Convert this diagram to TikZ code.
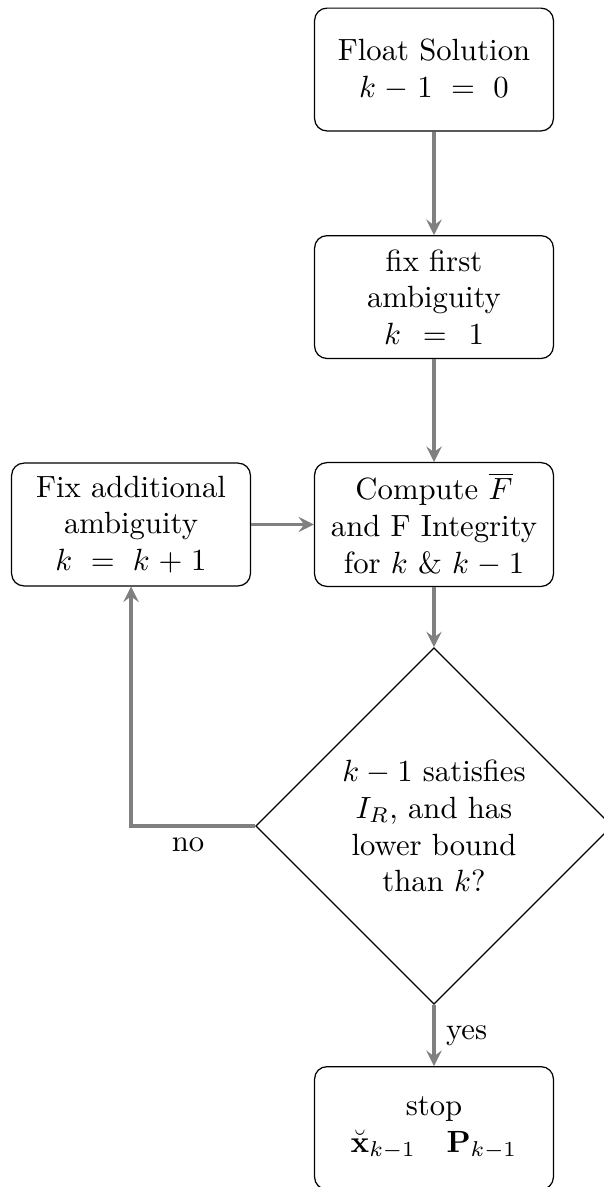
\documentclass[tikz,border=0pt]{standalone}
\usepackage{amsmath}
\usetikzlibrary{shapes.geometric}
\begin{document}
\begin{tikzpicture}[
    blocco/.style={rectangle,draw,rounded corners,text width=2.5cm,align=center,minimum height=4em},
    scelta/.style={diamond,draw,aspect=1,inner sep=0pt,text width=2.2cm,align=center,minimum width=4.08cm,minimum height=4.08cm},
    freccia/.style={draw=gray,line width=1.2pt,-stealth}]
        %fisso la cornice
        \useasboundingbox (-4.969,0.796) rectangle (1.935,-12.794);
        %disegno blocchi colonna centrale
        \node(float) at (0,0)[blocco]{Float Solution\\ $k-1\,=\,0$};
        \node(fix) at (0,-2.605)[blocco]{fix first ambiguity\\ $k\,=\,1$};
        \node(comp) at (0,-5.209)[blocco]{Compute $\overline{F}$\\ and F Integrity\\ for $k$ \& $k-1$};
        %blocco a sinistra
        \node(fixadd) at (-3.469,-5.209)[blocco]{Fix additional ambiguity\\ $k\,=\,k+1$};
        %disegno rombo
        \node(dec) at (0,-8.661)[scelta]{$k-1$ satisfies $I_R$, and has lower bound than $k$?};
        %blocco finale
        \node(stop) at (0,-11.409)[blocco,anchor=north]{stop\\ $\breve{\mathbf{x}}_{k-1}\quad\mathbf{P}_{k-1}$};
        
        %disegno frecce
        \draw[freccia](float)--(fix);
        \draw[freccia](fix)--(comp);
        \draw[freccia](fixadd)--(comp);
        \draw[freccia](comp)--(dec);
        \draw[freccia](dec)--node[right,black]{yes}(stop);
        \draw[freccia](dec.west)-|node[pos=.27,below,black]{no}(fixadd.south);
        
    \end{tikzpicture}
\end{document}
